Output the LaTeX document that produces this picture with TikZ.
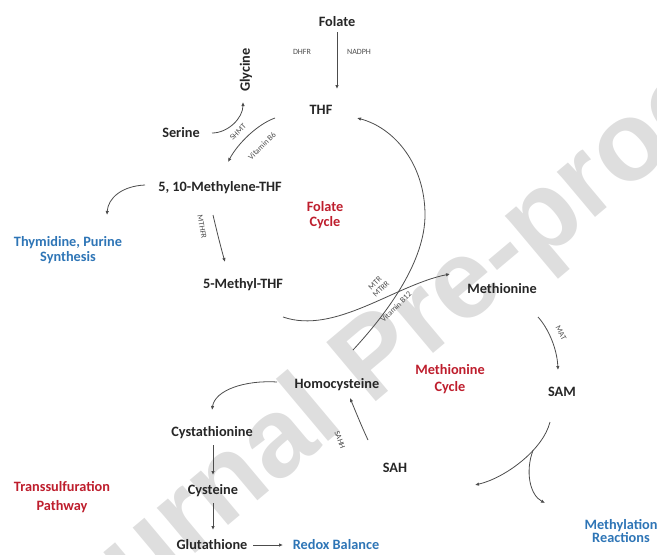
\documentclass[tikz,border=0pt]{standalone}
\usepackage{fontspec}
\setmainfont{Carlito}
\newfontfamily\wmfont{Liberation Sans}
\usetikzlibrary{arrows.meta,calc}

\definecolor{cyclered}{RGB}{190,30,45}
\definecolor{outblue}{RGB}{46,117,182}
\definecolor{wmgray}{RGB}{222,222,222}

\tikzset{
        met/.style={font=\fontsize{14.3}{16}\selectfont\bfseries, text=black!85, inner sep=2pt},
        cyc/.style={font=\fontsize{14.3}{15}\selectfont\bfseries, text=cyclered, align=center},
        outc/.style={font=\fontsize{14.3}{15}\selectfont\bfseries, text=outblue, align=center},
        enz/.style={font=\fontsize{8}{8.5}\selectfont, text=black!70, inner sep=1pt, align=center},
        rxn/.style={-{Latex[length=4pt,width=3.5pt]}, draw=black!70, line width=0.8pt},
}

\begin{document}
\begin{tikzpicture}[x=1pt,y=-1pt]
        \useasboundingbox (0,0) rectangle (657,555);

        % watermark
        \node[text=wmgray, rotate=40, font=\wmfont\bfseries\fontsize{112}{112}\selectfont] (wm) at (378,362) {Journal Pre-proof};

        % folate cycle
        \node[met] (folate) at (337,22) {Folate};
        \node[met] (thf) at (321,110) {THF};
        \node[met, rotate=90] (glycine) at (246,70) {Glycine};
        \node[met] (serine) at (181,133) {Serine};
        \node[met] (mthf) at (220,188) {5, 10-Methylene-THF};
        \node[outc] (thymidine) at (68,250) {Thymidine, Purine\\Synthesis};
        \node[met] (methylthf) at (243,285) {5-Methyl-THF};
        \node[cyc] (folcycle) at (325,215) {Folate\\Cycle};

        \node[enz] (dhfr) at (302,52) {DHFR};
        \node[enz] (nadph) at (359,52) {NADPH};
        \node[enz, rotate=45] (shmt) at (238,132) {SHMT};
        \node[enz, rotate=45] (vitbsix) at (262,146) {Vitamin B6};
        \node[enz, rotate=-80] (mthfr) at (202,227) {MTHFR};

        \draw[rxn] ($(folate)+(0,10)$) -- ($(thf)+(16,-21)$);
        \draw[rxn] ($(serine)+(31,0)$) .. controls (228,133) and (243,118) .. ($(glycine)+(-3,32)$);
        \draw[rxn] ($(thf)+(-46,8)$) .. controls (258,124) and (238,143) .. ($(mthf)+(8,-26)$);
        \draw[rxn] ($(mthf)+(-75,-3)$) .. controls (122,186) and (108,198) .. ($(thymidine)+(39,-35)$);
        \draw[rxn] ($(mthf)+(-7,27)$) .. controls (217,232) and (221,248) .. ($(methylthf)+(-18,-23)$);

        % methionine cycle
        \node[met] (methionine) at (502,289) {Methionine};
        \node[met] (sam) at (562,392) {SAM};
        \node[met] (sah) at (395,468) {SAH};
        \node[met] (homocys) at (337,385) {Homocysteine};
        \node[cyc, font=\fontsize{14.3}{17}\selectfont\bfseries] (metcycle) at (450,379) {Methionine\\Cycle};
        \node[outc, font=\fontsize{14.3}{13}\selectfont\bfseries] (methylation) at (621,531) {Methylation\\Reactions};

        \node[enz, rotate=45] (mtr) at (378,286) {MTR\\MTRR};
        \node[enz, rotate=45] (vitbtwelve) at (396,307) {Vitamin B12};
        \node[enz, rotate=-62] (mat) at (561,333) {MAT};
        \node[enz, rotate=-70] (sahh) at (340,440) {SAHH};

        \draw[rxn] ($(homocys)+(16,-35)$) .. controls (390,310) and (425,260) .. (425,215)
                .. controls (425,165) and (395,128) .. ($(thf)+(36,8)$);
        \draw[rxn] ($(methylthf)+(40,32)$) .. controls (335,335) and (395,285) .. ($(methionine)+(-52,-15)$);
        \draw[rxn] ($(methionine)+(36,28)$) .. controls (548,328) and (557,348) .. ($(sam)+(-4,-22)$);
        \draw[rxn] ($(sam)+(-12,30)$) .. controls (543,450) and (505,478) .. coordinate[pos=0.35] (branch) ($(sah)+(80,17)$);
        \draw[rxn] (branch) .. controls (525,472) and (530,495) .. ($(methylation)+(-76,-28)$);
        \draw[rxn] ($(sah)+(-27,-28)$) .. controls (361,425) and (355,410) .. ($(homocys)+(13,13)$);

        % transsulfuration
        \node[met] (cysta) at (212,433) {Cystathionine};
        \node[met] (cysteine) at (213,491) {Cysteine};
        \node[met] (glut) at (212,545) {Glutathione};
        \node[outc] (redox) at (336,545) {Redox Balance};
        \node[cyc, font=\fontsize{14.3}{19}\selectfont\bfseries] (transs) at (62,497) {Transsulfuration\\Pathway};

        \draw[rxn] ($(homocys)+(-60,-3)$) .. controls (245,380) and (215,390) .. ($(cysta)+(0,-23)$);
        \draw[rxn] ($(cysta)+(1,12)$) -- ($(cysteine)+(0,-16)$);
        \draw[rxn] ($(cysteine)+(0,12)$) -- ($(glut)+(1,-15)$);
        \draw[rxn] ($(glut)+(41,0)$) -- ($(redox)+(-53,0)$);
\end{tikzpicture}
\end{document}
